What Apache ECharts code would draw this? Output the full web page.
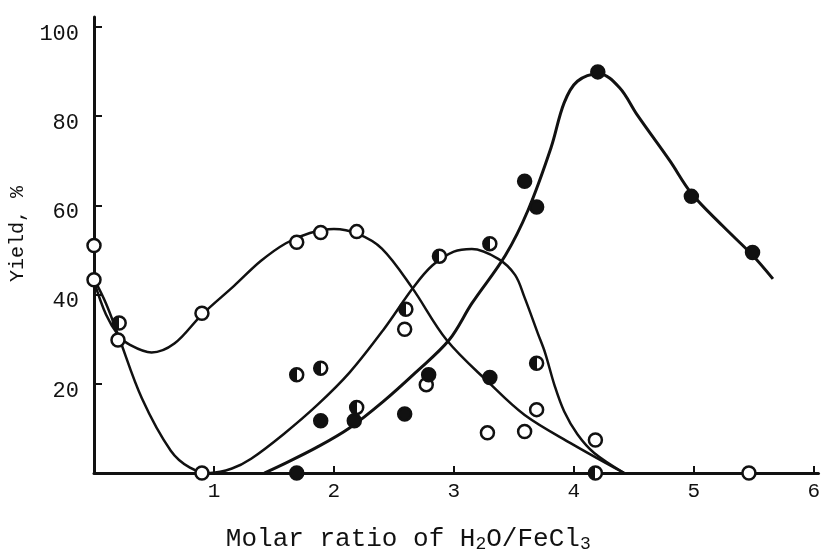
<!DOCTYPE html>
<html>
<head>
<meta charset="utf-8">
<script src="https://cdn.jsdelivr.net/npm/echarts@6/dist/echarts.min.js"></script>
<style>
  html, body { margin: 0; padding: 0; background: #fff; }
  #chart { width: 823px; height: 558px; }
</style>
</head>
<body>
<div id="chart"></div>
<script>
// x = molar ratio H2O/FeCl3, y = yield %
const xTicks = [0, 1, 2, 3, 4, 5, 6];
const yTicks = [0, 20, 40, 60, 80, 100];

// measured points
const openPts = [[0, 51], [0, 43.3], [0.2, 29.8], [0.9, 35.8], [0.9, 0], [1.69, 51.7], [1.89, 53.9],
  [2.19, 54.1], [2.59, 32.2], [2.77, 19.8], [3.28, 9.0], [3.59, 9.3], [3.69, 14.2], [4.18, 7.4], [5.46, 0]];
const halfPts = [[0.21, 33.6], [1.69, 22], [1.89, 23.5], [2.19, 14.7], [2.6, 36.7], [2.88, 48.6],
  [3.3, 51.4], [3.69, 24.6], [4.18, 0]];
const filledPts = [[1.69, 0], [1.89, 11.7], [2.17, 11.7], [2.59, 13.2], [2.79, 22], [3.3, 21.4],
  [3.59, 65.4], [3.69, 59.6], [4.2, 89.9], [4.98, 62], [5.49, 49.4]];

// hand-drawn fit curves
const curveOpen = [[0, 43], [0.1, 35.5], [0.2, 31], [0.3, 28.7], [0.48, 27], [0.67, 29], [0.9, 35.5],
  [1.17, 42], [1.39, 47.5], [1.6, 51.5], [1.8, 53.8], [2.0, 54.7], [2.2, 53.6], [2.4, 50.3],
  [2.65, 41.6], [2.94, 29.8], [3.29, 20.3], [3.59, 13], [3.98, 6.6], [4.42, 0]];
const curveHalf = [[0, 43.5], [0.1, 38], [0.2, 31], [0.4, 16.7], [0.64, 5], [0.8, 1.2], [0.97, 0],
  [1.15, 1], [1.31, 3.2], [1.58, 8.7], [1.86, 15.2], [2.13, 22.5], [2.41, 32], [2.66, 41.5],
  [2.82, 46.5], [3.0, 49.6], [3.15, 50.2], [3.37, 48], [3.51, 44.4], [3.59, 39.3], [3.7, 31.3],
  [3.76, 27], [3.84, 19.6], [3.92, 13.8], [4.03, 8.7], [4.17, 4.5], [4.42, 0]];
const curveFilled = [[1.42, 0], [1.58, 2], [1.86, 5.8], [2.13, 10.1], [2.41, 16], [2.68, 22.5],
  [2.96, 29.8], [3.15, 38], [3.43, 48.8], [3.62, 59], [3.81, 72.9], [3.92, 83], [4.03, 87.8],
  [4.21, 89.5], [4.38, 86.4], [4.53, 80.2], [4.8, 70], [4.98, 62.7], [5.24, 55.4], [5.49, 48.8],
  [5.66, 43.5]];

const INK = '#111';
const mono = '"Liberation Mono", "DejaVu Sans Mono", monospace';

const curve = (data, w) => ({
  type: 'line', data, smooth: 0.35, showSymbol: false, silent: true,
  lineStyle: { color: INK, width: w }, z: 2
});
const dots = (data, fill) => ({
  type: 'scatter', data, symbol: 'circle', symbolSize: 13, z: 5,
  itemStyle: { color: fill, borderColor: INK, borderWidth: 2.5, opacity: 1 }
});
const halfFill = {
  type: 'linear', x: 0, y: 0, x2: 1, y2: 0,
  colorStops: [{ offset: 0, color: INK }, { offset: 0.5, color: INK },
               { offset: 0.5, color: '#fff' }, { offset: 1, color: '#fff' }]
};

const chart = echarts.init(document.getElementById('chart'), null, { renderer: 'canvas' });
chart.setOption({
  animation: false,
  backgroundColor: '#fff',
  grid: { left: 92, right: 0, top: 17, bottom: 73, containLabel: false },
  xAxis: {
    type: 'value', min: xTicks[0], max: 6.04, interval: 1,
    axisLine: { lineStyle: { color: INK, width: 3 } },
    axisTick: { inside: true, length: 7, lineStyle: { color: INK, width: 2 } },
    axisLabel: { color: INK, fontFamily: mono, fontSize: 21, margin: 8,
      formatter: v => (v === 0 ? '' : String(v)) },
    splitLine: { show: false },
    name: 'Molar ratio of H{s|2}O/FeCl{s|3}',
    nameLocation: 'middle', nameGap: 52,
    nameTextStyle: { color: INK, fontFamily: mono, fontSize: 26, padding: [0, 96, 0, 0],
      rich: { s: { fontFamily: mono, fontSize: 18, color: INK, verticalAlign: 'bottom', padding: [10, 0, 0, 0] } } }
  },
  yAxis: {
    type: 'value', min: yTicks[0], max: 102.2, interval: 20,
    axisLine: { show: true, lineStyle: { color: INK, width: 3 } },
    axisTick: { show: true, inside: true, length: 8, lineStyle: { color: INK, width: 2 } },
    axisLabel: { color: INK, fontFamily: mono, fontSize: 22, margin: 15,
      verticalAlign: 'top', lineHeight: 14,
      formatter: v => (v === 0 ? '' : String(v)) },
    splitLine: { show: false },
    name: 'Yield, %', nameLocation: 'middle', nameGap: 66, nameRotate: 90,
    nameTextStyle: { color: INK, fontFamily: mono, fontSize: 20, padding: [0, 0, 0, 22] }
  },
  series: [
    curve(curveOpen, 2.5),
    curve(curveHalf, 2.5),
    curve(curveFilled, 3),
    dots(openPts, '#fff'),
    dots(halfPts, halfFill),
    dots(filledPts, INK)
  ]
});
</script>
</body>
</html>
